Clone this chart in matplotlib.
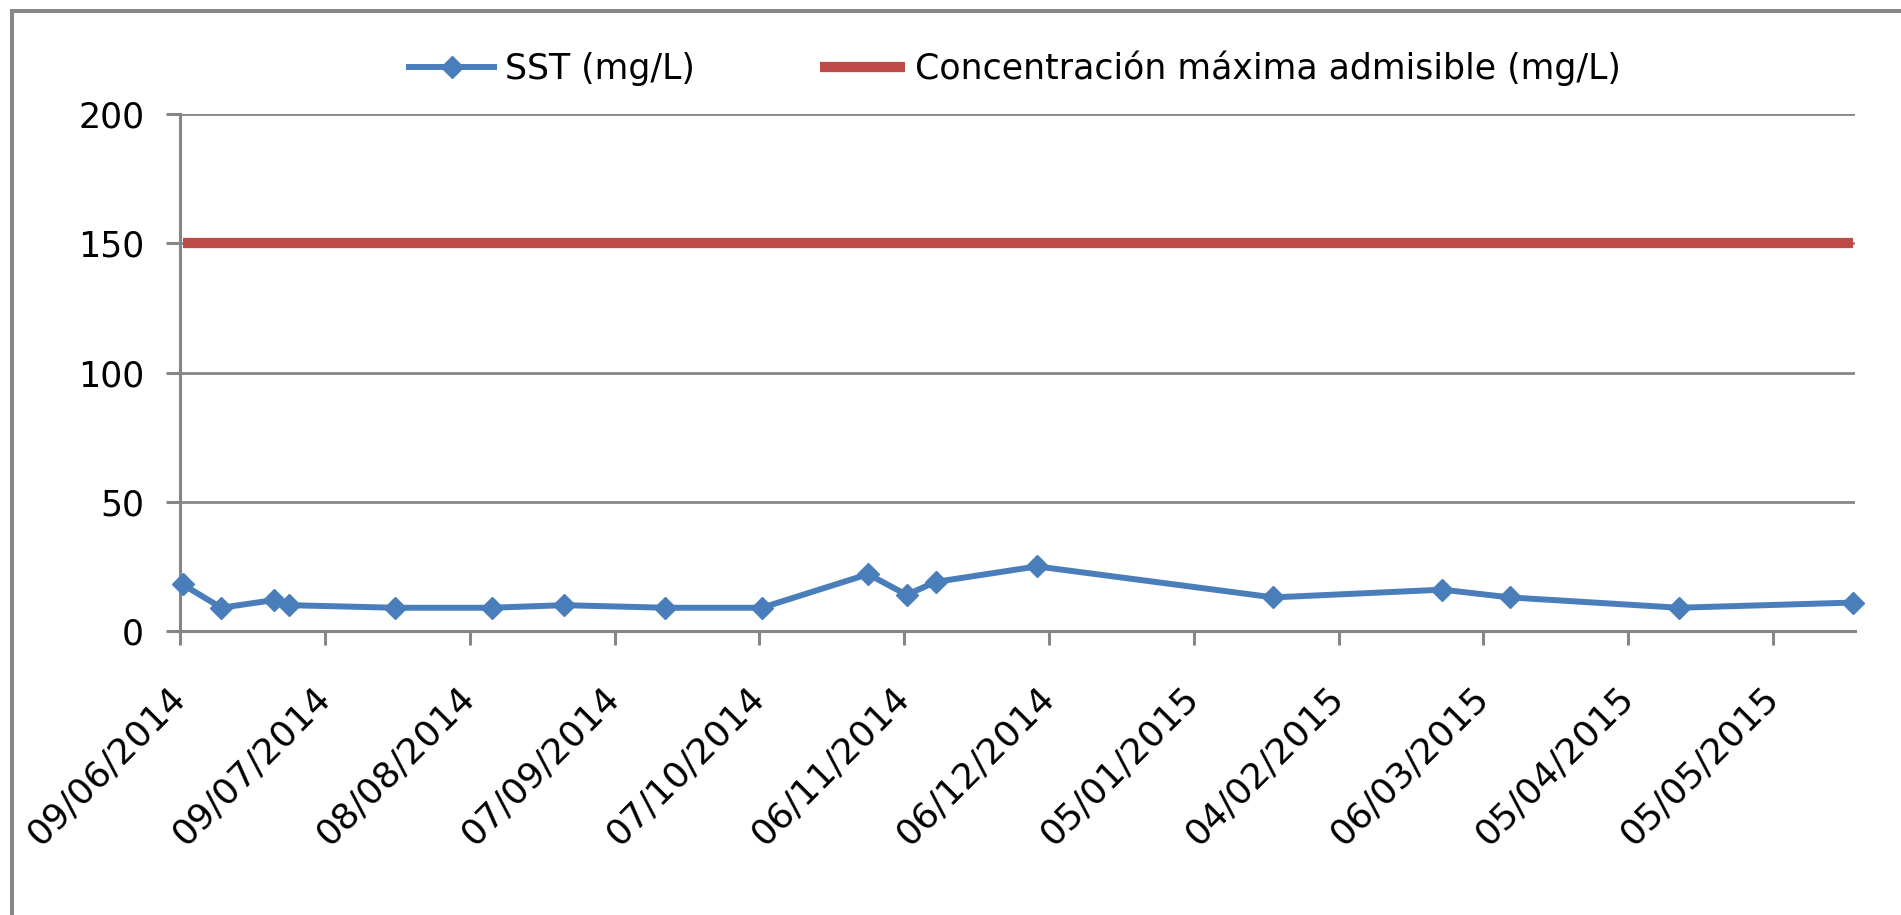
import matplotlib
matplotlib.use("Agg")
import matplotlib.pyplot as plt
import matplotlib.dates as mdates
from matplotlib.lines import Line2D
import pandas as pd

# ---- data ----
fechas = ["2014-06-09", "2014-06-17", "2014-06-28", "2014-07-01", "2014-07-23",
          "2014-08-12", "2014-08-27", "2014-09-17", "2014-10-07", "2014-10-29",
          "2014-11-06", "2014-11-12", "2014-12-03", "2015-01-21", "2015-02-25",
          "2015-03-11", "2015-04-15", "2015-05-21"]
sst_mgL = [18, 9, 12, 10, 9, 9, 10, 9, 9, 22, 14, 19, 25, 13, 16, 13, 9, 11]
limite_mgL = [150, 150, 150, 150, 150, 150, 150, 150, 150, 150,
              150, 150, 150, 150, 150, 150, 150, 150]
tick_fechas = ["2014-06-09", "2014-07-09", "2014-08-08", "2014-09-07", "2014-10-07",
               "2014-11-06", "2014-12-06", "2015-01-05", "2015-02-04", "2015-03-06",
               "2015-04-05", "2015-05-05"]
tick_labels = ["09/06/2014", "09/07/2014", "08/08/2014", "07/09/2014", "07/10/2014",
               "06/11/2014", "06/12/2014", "05/01/2015", "04/02/2015", "06/03/2015",
               "05/04/2015", "05/05/2015"]
y_ticks = [0, 50, 100, 150, 200]
serie_sst = "SST (mg/L)"
serie_lim = "Concentración máxima admisible (mg/L)"

# ---- figure ----
W, H = 1901, 915
fig = plt.figure(figsize=(W / 100, H / 100), dpi=100)
plt.rcParams['font.family'] = ['DejaVu Sans']

x0, x1, yt, yb = 180.3, 1855.0, 114.3, 631.0
ax = fig.add_axes([x0 / W, 1 - yb / H, (x1 - x0) / W, (yb - yt) / H])

fx = pd.to_datetime(fechas) + pd.Timedelta(hours=12)
grey = "#868686"
blue = "#4A7EBB"
red = "#BE4B48"

ax.plot(fx, limite_mgL, color=red, lw=7.4, solid_capstyle='butt', zorder=3,
        clip_on=False, label=serie_lim)
ax.plot(fx, sst_mgL, color=blue, lw=4.3, marker='D', ms=11, mew=1, mfc=blue,
        mec=blue, zorder=4, clip_on=False, label=serie_sst)

start = pd.Timestamp(fechas[0])
ax.set_xlim(mdates.date2num(start), mdates.date2num(start) + 347)
ax.set_ylim(0, 200)
ax.set_yticks(y_ticks)
ax.set_xticks(mdates.date2num(pd.to_datetime(tick_fechas)))
ax.set_xticklabels(tick_labels)

ax.yaxis.grid(True, color=grey, lw=2.0)
ax.set_axisbelow(True)
for s in ["top", "right"]:
    ax.spines[s].set_visible(False)
for s in ["left", "bottom"]:
    ax.spines[s].set_color(grey)
    ax.spines[s].set_linewidth(2.2)

ax.tick_params(axis='both', direction='out', length=10, width=2.2, color=grey,
               labelsize=25, labelcolor='black')
ax.tick_params(axis='y', pad=16)
ax.tick_params(axis='x', pad=34, labelsize=26)
plt.setp(ax.get_xticklabels(), rotation=45, ha='right', va='center',
         rotation_mode='anchor')

# legend
h_sst = Line2D([], [], color=blue, lw=4.3, marker='D', ms=11, mfc=blue, mec=blue)
h_lim = Line2D([], [], color=red, lw=7.4, solid_capstyle='butt')
fig.legend([h_sst, h_lim], [serie_sst, serie_lim], loc='center', ncol=2,
           bbox_to_anchor=(1015 / W, 1 - 68 / H), frameon=False, fontsize=25,
           handlelength=2.45, handletextpad=0.3, columnspacing=3.6)

# outer border (chart area frame)
fig.add_artist(Line2D([12 / W, 1.0], [1 - 11 / H, 1 - 11 / H], color="#888888",
                      lw=2.9, transform=fig.transFigure))
fig.add_artist(Line2D([12 / W, 12 / W], [1 - 11 / H, 0.0], color="#888888",
                      lw=2.9, transform=fig.transFigure))

fig.savefig("out.png", dpi=100)
